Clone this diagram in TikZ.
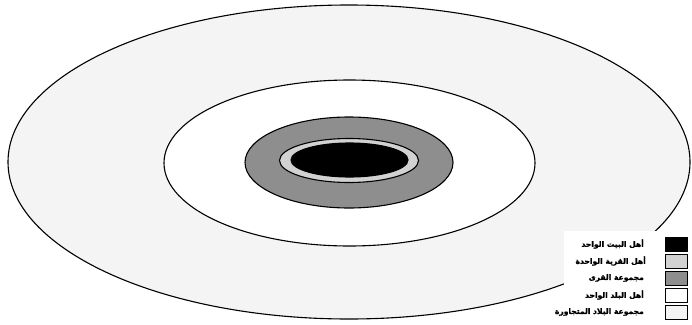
\documentclass[tikz,border=0pt]{standalone}
\usepackage{fontspec}
\newfontfamily\arabicfont[Script=Arabic,FakeBold=1.5]{DejaVu Sans Bold}
\TeXXeTstate=1
\usetikzlibrary{shapes.geometric}
\definecolor{outerfill}{HTML}{F4F4F4}
\definecolor{ringfill}{HTML}{D2D2D2}
\definecolor{grayfill}{HTML}{8E8E8E}
\tikzset{
  ring/.style={ellipse, draw=black, line width=1.1pt, inner sep=0pt},
  keybox/.style={draw=black, line width=0.9pt, minimum width=22pt, minimum height=14pt, inner sep=0pt},
  keytext/.style={anchor=east, font=\arabicfont\fontsize{7.6}{8}\selectfont, inner sep=0pt}
}
\begin{document}
\begin{tikzpicture}[x=1pt,y=-1pt]
\useasboundingbox[fill=white] (0,0) rectangle (692,324);
\node[ring, fill=outerfill, minimum width=682pt, minimum height=314pt] (o) at (349,162) {};
\node[ring, fill=white, minimum width=371pt, minimum height=166pt] (m) at (349.5,163) {};
\node[ring, fill=grayfill, minimum width=208pt, minimum height=91pt] (g) at (349,162.5) {};
\node[ring, fill=ringfill, minimum width=139pt, minimum height=44pt] (r) at (349,160.5) {};
\node[ring, fill=black, minimum width=117pt, minimum height=34pt] (b) at (349.5,160) {};
\fill[white] (564,231) rectangle (692,324);
\node[keybox, fill=black] (k1) at (676,244) {};
\node[keybox, fill=ringfill] (k2) at (676,261) {};
\node[keybox, fill=grayfill] (k3) at (676,278) {};
\node[keybox, fill=white] (k4) at (676,295) {};
\node[keybox, fill=outerfill] (k5) at (676,312) {};
\node[keytext] (t1) at (644,244) {\beginR أهل البيت الواحد\endR};
\node[keytext] (t2) at (646,261) {\beginR أهل القرية الواحدة\endR};
\node[keytext] (t3) at (644,278) {\beginR مجموعة القرى\endR};
\node[keytext] (t4) at (644,295) {\beginR أهل البلد الواحد\endR};
\node[keytext] (t5) at (644,312) {\beginR مجموعة البلاد المتجاورة\endR};
\end{tikzpicture}
\end{document}
